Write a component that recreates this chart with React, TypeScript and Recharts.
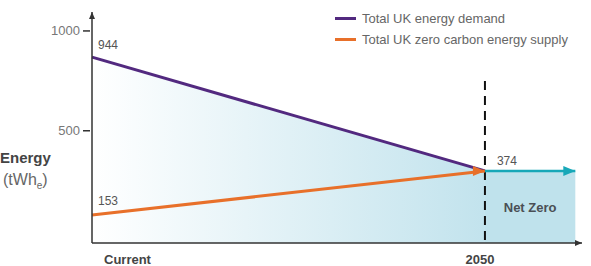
import {
  ComposedChart,
  Area,
  Line,
  XAxis,
  YAxis,
  ReferenceLine,
  ReferenceArea,
  ReferenceDot,
  Legend,
} from "recharts";

// x positions: 0 = Current, 1 = 2050, last = end of the net zero arrow
const positions = [0, 1, 1.23];
const xLabels = ["Current", "2050"];
const demand = [944, 374, null];
const zeroCarbon = [153, 374, null];
const netZero = [null, 374, 374];
const yTicks = [500, 1000];

const legendItems = [
  { name: "Total UK energy demand", color: "#52297f" },
  { name: "Total UK zero carbon energy supply", color: "#e8702a" },
];

const X_MAX = 1.247;
const Y_MIN = 13;
const Y_MAX = 1170;
const DASH_TOP = 824;

const data = positions.map((x, i) => ({
  x,
  demand: demand[i],
  supply: zeroCarbon[i],
  net: netZero[i],
}));

const FONT = "'Liberation Sans', Arial, sans-serif";

const valueLabel = (showIndex: number, dx: number, dy: number) => (props: any) => {
  if (props.index !== showIndex) return null;
  return (
    <text x={props.x + dx} y={props.y + dy} fontSize={12} fill="#555" fontFamily={FONT}>
      {props.value}
    </text>
  );
};

const YTick = (props: any) => {
  const { x, y, payload } = props;
  const ty = y - 15;
  return (
    <g>
      <line x1={x - 7} x2={x} y1={ty} y2={ty} stroke="#333" strokeWidth={1.5} />
      <text x={x - 10} y={ty + 4} textAnchor="end" fontSize={13} fill="#777" fontFamily={FONT}>
        {payload.value}
      </text>
    </g>
  );
};

const XTick = (props: any) => {
  const { x, y, payload, index } = props;
  const first = index === 0;
  return (
    <text
      x={first ? x + 12 : x - 5}
      y={y + 19}
      textAnchor={first ? "start" : "middle"}
      fontSize={13}
      fontWeight="bold"
      fill="#444"
      fontFamily={FONT}
    >
      {xLabels[index] ?? payload.value}
    </text>
  );
};

const arrowDot = (color: string, lastIndex: number) => (props: any) => {
  const { cx, cy, index } = props;
  if (index !== lastIndex || cx == null) return <g key={index} />;
  return (
    <polygon
      key={index}
      points={`${cx},${cy} ${cx - 12},${cy - 5} ${cx - 12},${cy + 5}`}
      fill={color}
    />
  );
};

const RenderLegend = () => (
  <div style={{ fontFamily: FONT, fontSize: 13, color: "#666" }}>
    {legendItems.map((it) => (
      <div key={it.name} style={{ display: "flex", alignItems: "center", height: 21 }}>
        <span
          style={{
            display: "inline-block",
            width: 21,
            height: 3,
            background: it.color,
            marginRight: 6,
          }}
        />
        {it.name}
      </div>
    ))}
  </div>
);

export default function App() {
  return (
    <div style={{ position: "absolute", left: 0, top: 0 }}>
      <ComposedChart
        width={591}
        height={266}
        data={data}
        margin={{ top: 12, right: 9, bottom: 22, left: 91 }}
        style={{ fontFamily: FONT }}
      >
        <defs>
          <linearGradient id="fade" x1="0" y1="0" x2="1" y2="0">
            <stop offset="0%" stopColor="#ffffff" />
            <stop offset="100%" stopColor="#c2e3ed" />
          </linearGradient>
        </defs>
        <XAxis
          type="number"
          dataKey="x"
          domain={[0, X_MAX]}
          ticks={[0, 1]}
          height={1}
          tickSize={0}
          tickLine={false}
          axisLine={{ stroke: "#333", strokeWidth: 1.5 }}
          tick={<XTick />}
          interval={0}
        />
        <YAxis
          type="number"
          domain={[Y_MIN, Y_MAX]}
          ticks={yTicks}
          width={1}
          tickSize={0}
          tickLine={false}
          axisLine={{ stroke: "#333", strokeWidth: 1.5 }}
          tick={<YTick />}
          allowDataOverflow
          label={{
            content: () => (
              <g fontFamily={FONT}>
                <text x={0} y={163} fontSize={15} fontWeight="bold" fill="#444">
                  Energy
                </text>
                <text x={3} y={185} fontSize={16} fill="#666">
                  (tWh
                  <tspan fontSize={10} dy={4}>e</tspan>
                  <tspan dy={-4}>)</tspan>
                </text>
              </g>
            ),
          }}
        />
        <Legend
          layout="horizontal"
          verticalAlign="middle"
          wrapperStyle={{ top: 8, left: 335, width: 256 }}
          content={<RenderLegend />}
        />
        <Area
          type="linear"
          dataKey="demand"
          stroke="none"
          fill="url(#fade)"
          fillOpacity={1}
          isAnimationActive={false}
          dot={false}
          activeDot={false}
        />
        <ReferenceArea
          x1={1}
          x2={positions[2]}
          y1={Y_MIN}
          y2={netZero[2] as number}
          fill="#bfe2ec"
          fillOpacity={1}
          stroke="none"
          label={{
            value: "Net Zero",
            position: "center",
            fontSize: 13,
            fontWeight: "bold",
            fill: "#4a4f55",
            fontFamily: FONT,
          }}
        />
        <ReferenceLine
          segment={[
            { x: 1, y: DASH_TOP },
            { x: 1, y: Y_MIN },
          ]}
          stroke="#111"
          strokeWidth={2}
          strokeDasharray="9 6"
        />
        <Line
          type="linear"
          dataKey="demand"
          stroke="#52297f"
          strokeWidth={3}
          dot={false}
          activeDot={false}
          isAnimationActive={false}
          label={valueLabel(0, 6, -8)}
        />
        <Line
          type="linear"
          dataKey="supply"
          stroke="#e8702a"
          strokeWidth={3}
          dot={arrowDot("#e8702a", 1)}
          activeDot={false}
          isAnimationActive={false}
          label={valueLabel(0, 6, -10)}
        />
        <Line
          type="linear"
          dataKey="net"
          stroke="#17a8b8"
          strokeWidth={2.5}
          dot={arrowDot("#17a8b8", 2)}
          activeDot={false}
          isAnimationActive={false}
          label={valueLabel(1, 12, -6)}
        />
        <ReferenceDot
          x={X_MAX}
          y={Y_MIN}
          r={0}
          ifOverflow="visible"
          shape={(p: any) => (
            <polygon points={`${p.cx},${p.cy} ${p.cx - 7},${p.cy - 3} ${p.cx - 7},${p.cy + 3}`} fill="#333" />
          )}
        />
        <ReferenceDot
          x={0}
          y={Y_MAX}
          r={0}
          ifOverflow="visible"
          shape={(p: any) => (
            <polygon points={`${p.cx},${p.cy} ${p.cx - 3},${p.cy + 7} ${p.cx + 3},${p.cy + 7}`} fill="#333" />
          )}
        />
      </ComposedChart>
    </div>
  );
}
